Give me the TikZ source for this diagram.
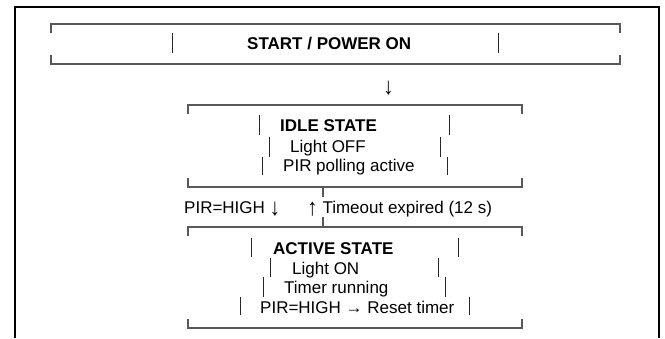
\documentclass[tikz,border=0pt]{standalone}
\usepackage{fontspec}
\setmainfont{Liberation Sans}

% box edges: top and bottom rule with short end ticks
\newcommand{\statebox}[4]{%
  \draw[rule] (#1,#3+9) -- (#1,#3) -- (#2,#3) -- (#2,#3+9);
  \draw[rule] (#1,#4-9) -- (#1,#4) -- (#2,#4) -- (#2,#4-9);
}
% taller vertical arrows
\newcommand{\dnarr}{\raisebox{-2pt}{\scalebox{1.25}[1.4]{↓}}}
\newcommand{\uparr}{\raisebox{-2pt}{\scalebox{1.25}[1.4]{↑}}}

\tikzset{
  frame/.style={draw=black, line width=1.2pt},
  rule/.style={draw=black!65, line width=1.4pt},
  bar/.style={draw=black!85, line width=1pt},
  lbl/.style={inner sep=0pt, anchor=base west, font=\fontsize{17}{20}\selectfont},
  head/.style={lbl, font=\fontsize{17}{20}\selectfont\bfseries},
}

\begin{document}
\begin{tikzpicture}[x=1pt, y=-1pt]
    \useasboundingbox (0,0) rectangle (665,338);

    % outer frame, open at the bottom
    \draw[frame] (15,338) -- (15,7) -- (659,7) -- (659,338);

    % boxes
    \statebox{51}{620}{24}{64}
    \statebox{188}{522}{105}{187}
    \statebox{188}{522}{227}{328}

    % texts
    \node[head] (start) at (247,49) {START / POWER ON};
    \node[lbl] (startarrow) at (383,92) {\dnarr};

    \node[head] (idle) at (280,131) {IDLE STATE};
    \node[lbl] (idleoff) at (290,152) {Light OFF};
    \node[lbl] (idlepir) at (283,171) {PIR polling active};

    \node[lbl] (tohigh) at (184,213) {PIR=HIGH \dnarr};
    \node[lbl] (totime) at (307,213) {\uparr{} Timeout expired (12 s)};

    \node[head] (active) at (273,254) {ACTIVE STATE};
    \node[lbl] (activeon) at (292,274) {Light ON};
    \node[lbl] (activetimer) at (284,293) {Timer running};
    \node[lbl] (activereset) at (260,313) {PIR=HIGH → Reset timer};

    % side bars of each row
    \foreach \xl/\xr/\ya/\yb in {172/498/33/53,
                                 259/449/115/135, 269/440/137/157, 262/447/157/175,
                                 251/458/238/257, 270/438/258/277, 263/445/277/297,
                                 240/469/297/315}
    {
        \draw[bar] (\xl,\ya) -- (\xl,\yb);
        \draw[bar] (\xr,\ya) -- (\xr,\yb);
    }

    % link between idle and active
    \coordinate (idlelink) at (323,187);
    \coordinate (activelink) at (323,227);
    \draw[rule] (idlelink) -- ++(0,10);
    \draw[rule] (activelink) -- ++(0,-10);
\end{tikzpicture}
\end{document}
